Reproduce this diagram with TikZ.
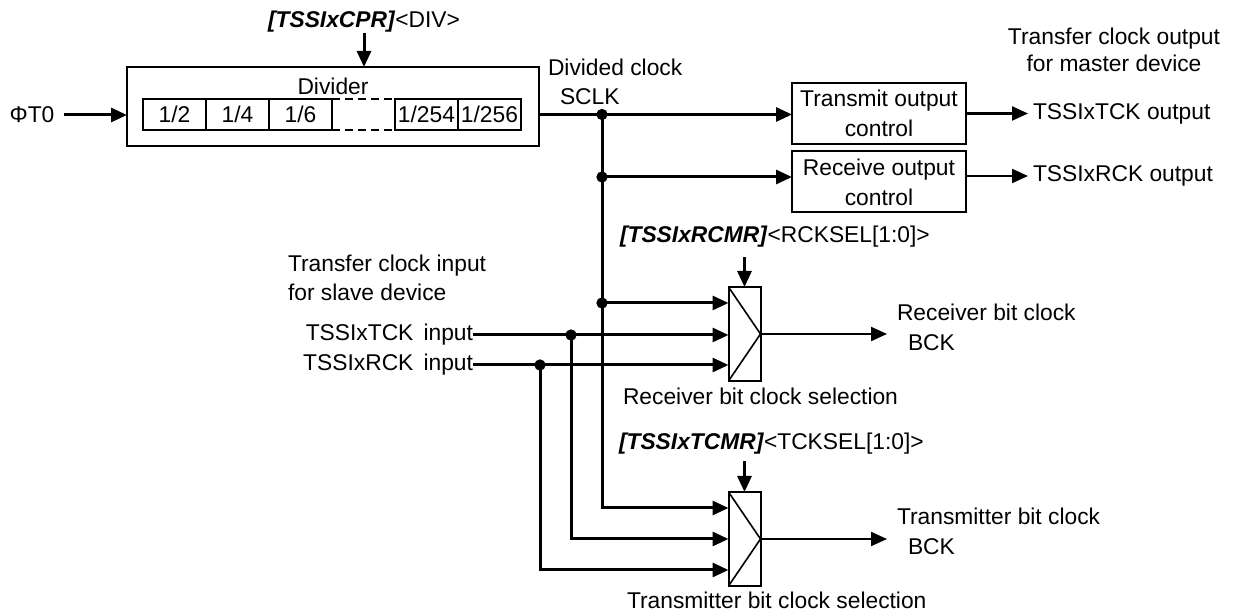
\documentclass[tikz,border=0pt]{standalone}
\usepackage{fontspec}
\setmainfont{Liberation Sans}
\usetikzlibrary{arrows.meta,positioning}

\tikzset{
    wire/.style={line width=1.5pt},
    sig/.style={wire,-{Triangle[length=8pt,width=7pt]}},
    osig/.style={line width=1.1pt,-{Triangle[length=8pt,width=7pt]}},
    blk/.style={draw,line width=1pt,inner sep=0pt,outer sep=0pt},
    cell/.style={blk,minimum width=31.5pt,minimum height=15.5pt},
    mux/.style={blk,minimum width=16pt,minimum height=47pt},
    ctl/.style={blk,minimum width=87pt,minimum height=30.5pt,align=center},
    txt/.style={inner sep=0pt,outer sep=0pt},
}
\newcommand{\regname}[1]{\textbf{\textit{#1}}}

\begin{document}
\begin{tikzpicture}[x=0.5pt,y=-0.5pt,font=\fontsize{11.4}{15}\selectfont]
    \useasboundingbox (0,0) rectangle (1238,614);

    % divider
    \node[blk,minimum width=206pt,minimum height=39.5pt] (div) at (333,106.5) {};
    \node[txt] (divname) at (333,86) {Divider};
    \node[cell] (d2) at (174.5,114.5) {1/2};
    \node[cell,right=0pt of d2] (d4) {1/4};
    \node[cell,right=0pt of d4] (d6) {1/6};
    \node[cell,draw=none,right=0pt of d6] (dgap) {};
    \node[cell,right=0pt of dgap] (d254) {1/254};
    \node[cell,right=0pt of d254] (d256) {1/256};
    \draw[line width=1pt,dash pattern=on 4pt off 2.5pt] (dgap.north west) -- (dgap.north east)
        (dgap.south west) -- (dgap.south east);

    \node[txt,inner sep=5pt] (phi) at (32,115) {ΦT0};
    \draw[sig] (phi.east) -- (phi.east -| div.west);
    \node[txt] (cpr) at (364,22) {\regname{[TSSIxCPR]}<DIV>};
    \draw[sig] (cpr.south) -- (cpr.south |- div.north);

    % divided clock
    \node[txt,anchor=west] (dclk) at (548,67) {Divided clock};
    \node[txt,anchor=west] (sclk) at (560,97) {SCLK};
    \coordinate (j1) at (602,114.5);
    \coordinate (j2) at (602,177);
    \coordinate (j3) at (602,303);
    \coordinate (j4) at (571,335);
    \coordinate (j5) at (540,365);

    % output control
    \node[ctl] (txo) at (879,113.5) {Transmit output\\control};
    \node[ctl] (rxo) at (879,182) {Receive output\\control};
    \node[txt,align=center] (mst) at (1114,50) {Transfer clock output\\[-1.5pt]for master device};
    \node[txt,anchor=west,inner sep=2.5pt] (tck) at (1028,113.5) {TSSIxTCK output};
    \node[txt,anchor=west,inner sep=2.5pt] (rck) at (1028,176) {TSSIxRCK output};
    \draw[wire] (div.east |- j1) -- (j1);
    \draw[sig] (j1) -- (txo.west |- j1);
    \draw[sig] (j2) -- (rxo.west |- j2);
    \draw[osig] (txo.east |- tck) -- (tck.west);
    \draw[osig] (rxo.east |- rck) -- (rck.west);

    % slave inputs
    \node[txt,align=left,anchor=west] (slv) at (288,277.5) {Transfer clock input\\[-0.5pt]for slave device};
    \node[txt,anchor=east] (tin) at (473,335) {TSSIxTCK\,\ input};
    \node[txt,anchor=east] (rin) at (473,365) {TSSIxRCK\,\ input};

    % receiver clock selection
    \node[mux] (rmux) at (744.5,334) {};
    \draw[line width=0.8pt] (rmux.north west) -- (rmux.east) -- (rmux.south west);
    \node[txt,anchor=west] (rcmr) at (620,237) {\regname{[TSSIxRCMR]}<RCKSEL[1:0]>};
    \draw[sig] ([yshift=15pt]rmux.north) -- (rmux.north);
    \node[txt,anchor=west] (rsel) at (623,396) {Receiver bit clock selection};
    \node[txt,anchor=west,align=left,inner sep=5pt] (rbck) at (887,327) {Receiver bit clock\\\hspace*{5.5pt}BCK};
    \draw[sig] (j3) -- (j3 -| rmux.west);
    \draw[sig] (tin.east) -- (tin.east -| rmux.west);
    \draw[sig] (rin.east) -- (rin.east -| rmux.west);
    \draw[osig] (rmux.east) -- (rmux.east -| rbck.west);

    % transmitter clock selection
    \node[mux] (tmux) at (744.5,539) {};
    \draw[line width=0.8pt] (tmux.north west) -- (tmux.east) -- (tmux.south west);
    \node[txt,anchor=west] (tcmr) at (619,444) {\regname{[TSSIxTCMR]}<TCKSEL[1:0]>};
    \draw[sig] ([yshift=15.5pt]tmux.north) -- (tmux.north);
    \node[txt,anchor=west] (tsel) at (627,600) {Transmitter bit clock selection};
    \node[txt,anchor=west,align=left,inner sep=5pt] (tbck) at (887,531.5) {Transmitter bit clock\\\hspace*{5.5pt}BCK};
    \draw[sig] (j1) |- ([yshift=15.5pt]tmux.west);
    \draw[sig] (j4) |- (tmux.west);
    \draw[sig] (j5) |- ([yshift=-15.5pt]tmux.west);
    \draw[osig] (tmux.east) -- (tmux.east -| tbck.west);

    \draw[fill=black] (j1) circle (2.6pt);
    \draw[fill=black] (j2) circle (2.6pt);
    \draw[fill=black] (j3) circle (2.6pt);
    \draw[fill=black] (j4) circle (2.6pt);
    \draw[fill=black] (j5) circle (2.6pt);
\end{tikzpicture}
\end{document}
